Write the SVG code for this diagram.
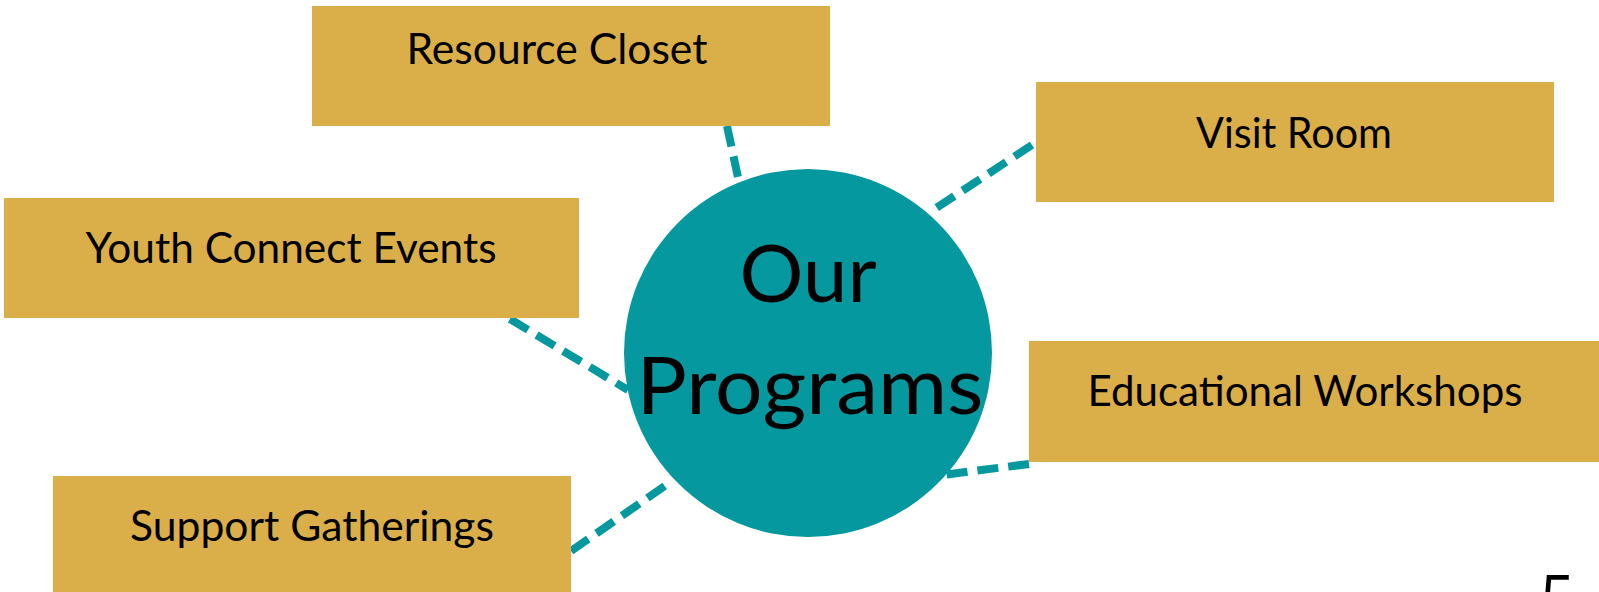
<svg xmlns="http://www.w3.org/2000/svg" width="1599" height="592" viewBox="0 0 1599 592">
<style>
.box{fill:#DAAF4A}
.lbl{font-family:Lato,"Open Sans",sans-serif;font-size:42px;fill:#000;text-anchor:middle}
.big{font-family:Lato,"Open Sans",sans-serif;font-size:80px;fill:#000;text-anchor:middle}
.con{stroke:#05989F;stroke-width:8;stroke-dasharray:21 10;fill:none}
</style>
<rect width="1599" height="592" fill="#fff"/>
<g id="connectors">
<line class="con" x1="727" y1="126" x2="739" y2="182"/>
<line class="con" x1="1032" y1="145" x2="930" y2="212"/>
<line class="con" x1="510" y1="319" x2="628" y2="390"/>
<line class="con" x1="1029" y1="464" x2="942" y2="475"/>
<line class="con" x1="571" y1="551" x2="672" y2="481"/>
</g>
<g id="center">
<circle cx="808" cy="353" r="184" fill="#05989F"/>
<text class="big" x="808" y="302" textLength="137" lengthAdjust="spacingAndGlyphs">Our</text>
<text class="big" x="810" y="414" textLength="347" lengthAdjust="spacingAndGlyphs">Programs</text>
</g>
<g id="resource-closet">
<rect class="box" x="312" y="6" width="518" height="120"/>
<text class="lbl" x="557" y="64" textLength="301" lengthAdjust="spacingAndGlyphs">Resource Closet</text>
</g>
<g id="visit-room">
<rect class="box" x="1036" y="82" width="518" height="120"/>
<text class="lbl" x="1294" y="148" textLength="196" lengthAdjust="spacingAndGlyphs">Visit Room</text>
</g>
<g id="youth-connect-events">
<rect class="box" x="4" y="198" width="575" height="120"/>
<text class="lbl" x="291" y="263" textLength="411" lengthAdjust="spacingAndGlyphs">Youth Connect Events</text>
</g>
<g id="educational-workshops">
<rect class="box" x="1029" y="341" width="570" height="121"/>
<text class="lbl" x="1305" y="406" textLength="435" lengthAdjust="spacingAndGlyphs">Educational Workshops</text>
</g>
<g id="support-gatherings">
<rect class="box" x="53" y="476" width="518" height="116"/>
<text class="lbl" x="312" y="541" textLength="364" lengthAdjust="spacingAndGlyphs">Support Gatherings</text>
</g>
<text x="1540" y="620" font-family="'Open Sans',Lato,sans-serif" font-size="62" fill="#000">5</text>
</svg>
